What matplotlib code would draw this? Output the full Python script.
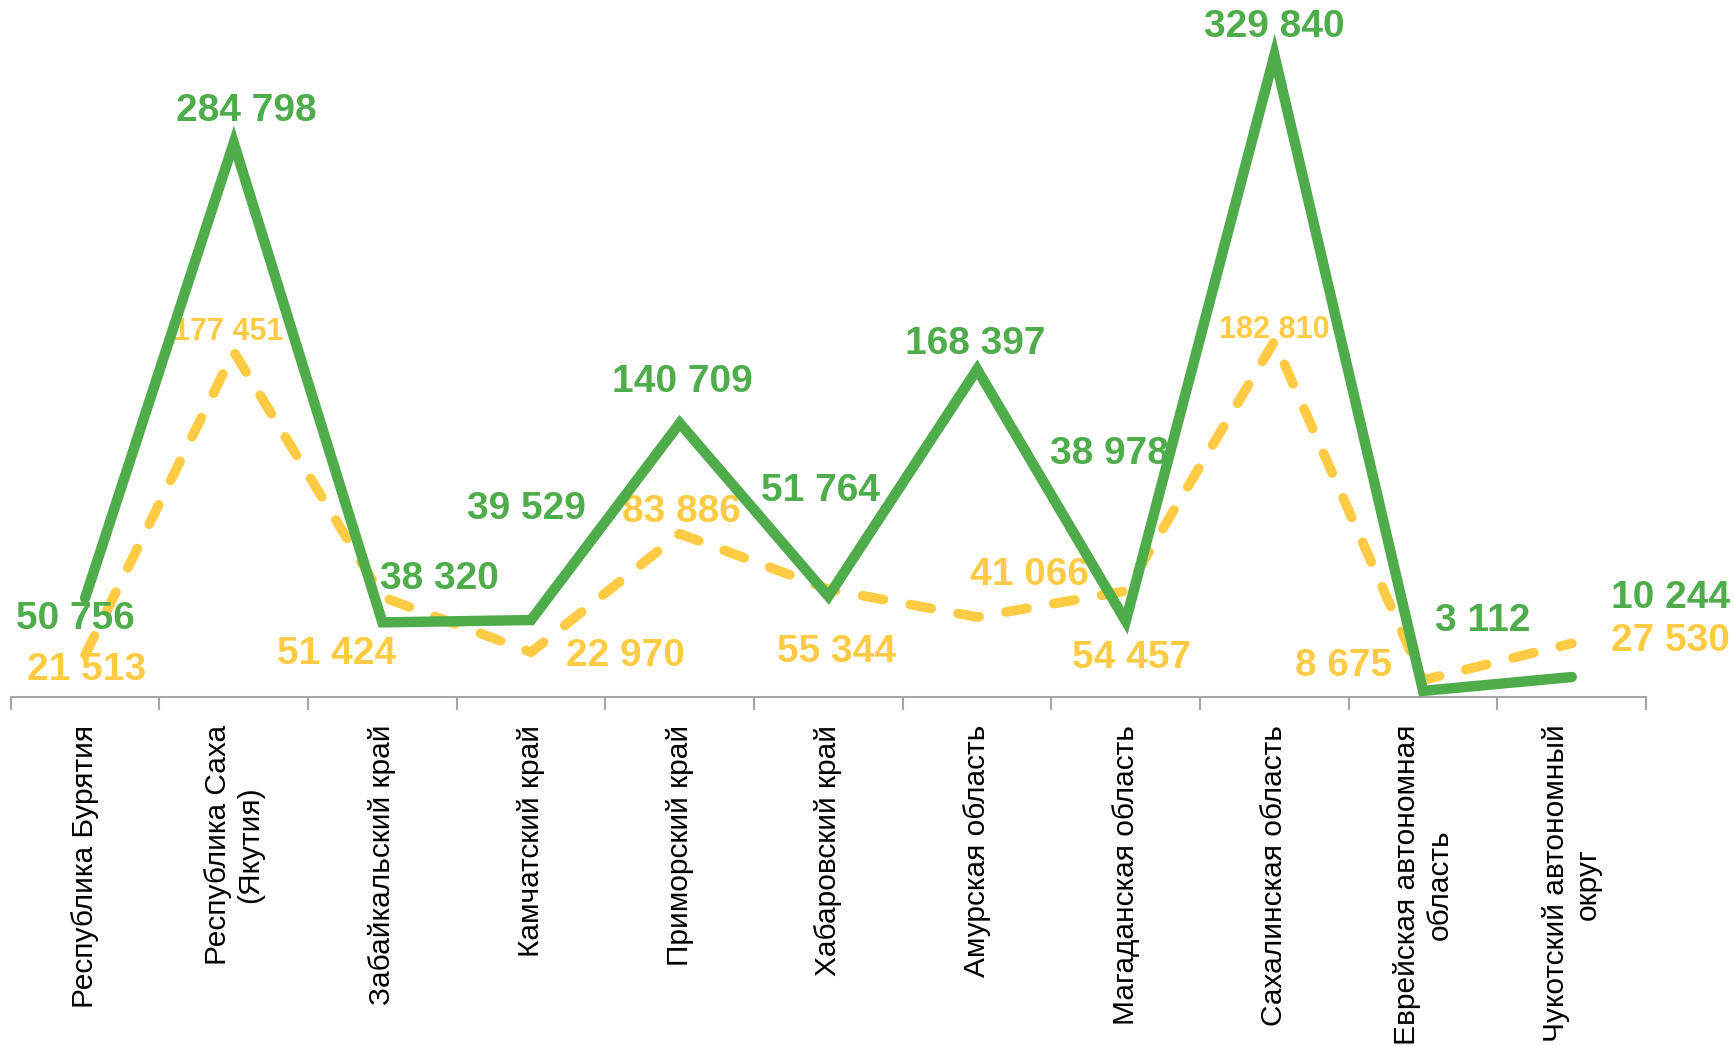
import matplotlib
matplotlib.use("Agg")
import matplotlib.pyplot as plt
from matplotlib.ticker import FixedLocator

plt.rcParams['font.family'] = ['Liberation Sans', 'DejaVu Sans']

# regions (x axis)
regions = [
    "Республика Бурятия",
    "Республика Саха\n(Якутия)",
    "Забайкальский край",
    "Камчатский край",
    "Приморский край",
    "Хабаровский край",
    "Амурская область",
    "Магаданская область",
    "Сахалинская область",
    "Еврейская автономная\nобласть",
    "Чукотский автономный\nокруг",
]

# series values
green_vals = [50756, 284798, 38320, 39529, 140709, 51764, 168397, 38978, 329840, 3112, 10244]
yellow_vals = [21513, 177451, 51424, 22970, 83886, 55344, 41066, 54457, 182810, 8675, 27530]

# label offsets in points (dx, dy)
green_off = [(-7, -15), (9, 23), (41, 31), (-3, 80), (2, 30), (-6, 76),
             (-1, 18), (-12, 120), (0, 20), (43, 50), (71, 57)]
yellow_off = [(1, -11), (-4, 14), (-33, -41), (68, -3), (1, 16), (6, -45),
              (38, 30), (4, -48), (0, 8), (-57, 10), (71, 2)]
yellow_size = [28, 22, 28, 28, 28, 28, 28, 28, 22, 28, 28]

GREEN = "#4EAC4B"
YELLOW = "#FFCB45"


def fmt(v):
    return f"{v:,}".replace(",", " ")


fig = plt.figure(figsize=(17.34, 10.46), dpi=100)
ax = fig.add_axes([0.0062, 0.3337, 0.9431, 0.651])

x = list(range(len(regions)))

ax.plot(x, yellow_vals, color=YELLOW, lw=7, ls=(0, (2.2, 2.8)),
        dash_capstyle='round', solid_capstyle='round', zorder=2, clip_on=False)
ax.plot(x, green_vals, color=GREEN, lw=7.5, solid_capstyle='round',
        solid_joinstyle='miter', zorder=3, clip_on=False)

for i in x:
    ax.annotate(fmt(yellow_vals[i]), (i, yellow_vals[i]), xytext=yellow_off[i],
                textcoords='offset points', ha='center', va='center',
                fontsize=yellow_size[i], fontweight='bold', color=YELLOW,
                annotation_clip=False, zorder=1)
    ax.annotate(fmt(green_vals[i]), (i, green_vals[i]), xytext=green_off[i],
                textcoords='offset points', ha='center', va='center',
                fontsize=28, fontweight='bold', color=GREEN,
                annotation_clip=False, zorder=4)

ax.set_xlim(-0.5, len(regions) - 0.5)
ax.set_ylim(0, 350000)

for s in ['top', 'right', 'left']:
    ax.spines[s].set_visible(False)
ax.spines['bottom'].set_color('#A6A6A6')
ax.spines['bottom'].set_linewidth(1.5)

ax.set_yticks([])
ax.set_xticks(x)
ax.set_xticklabels(regions, rotation=90, fontsize=21.5, multialignment='center')
ax.tick_params(axis='x', which='major', length=0, pad=20)
ax.xaxis.set_minor_locator(FixedLocator([i - 0.5 for i in range(len(regions) + 1)]))
ax.tick_params(axis='x', which='minor', length=9.5, width=1.5, color='#A6A6A6')

fig.savefig("out.png", dpi=100)
